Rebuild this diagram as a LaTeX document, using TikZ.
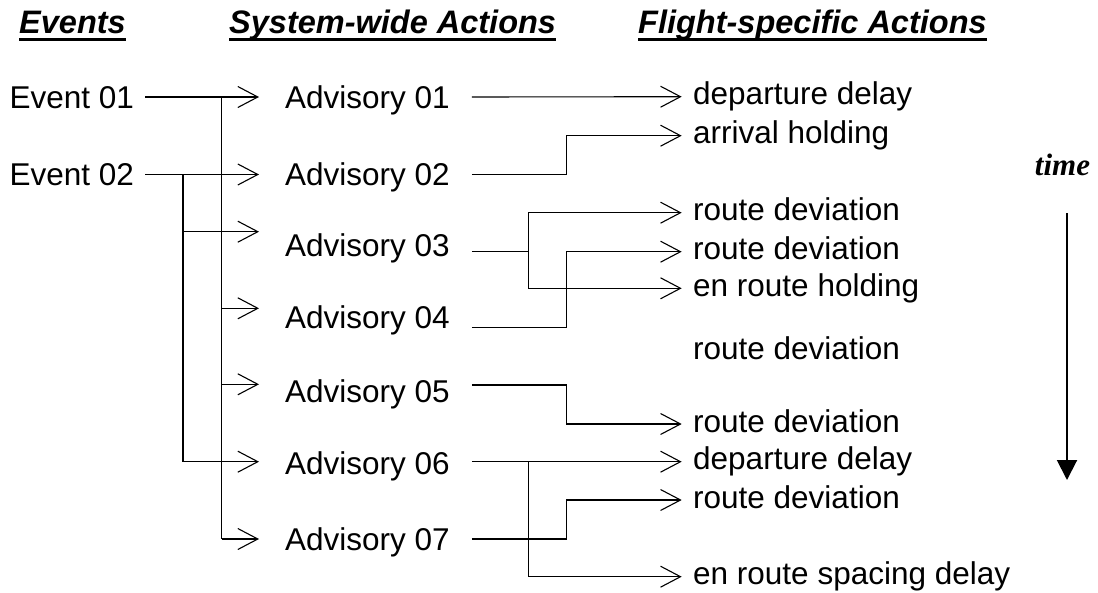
\documentclass[tikz,border=0pt]{standalone}
\usepackage{fontspec}
\setmainfont{Liberation Sans}
\newfontfamily\timesfont{Liberation Serif}
\usetikzlibrary{arrows.meta}

\begin{document}
\begin{tikzpicture}[x=1pt, y=-1pt,
  body/.style={font=\fontsize{31.5}{36}\selectfont, inner sep=0pt},
  evt/.style={body, anchor=west, text height=22.55pt, text depth=0pt},
  adv/.style={body, anchor=west, text height=22.55pt, text depth=0pt},
  act/.style={body, anchor=west, text height=16.35pt, text depth=0pt},
  head/.style={font=\fontsize{32.5}{38}\selectfont\bfseries\itshape, inner sep=0pt, anchor=base west},
  uline/.style={line width=2.5pt},
  link/.style={line width=1.1pt},
  arr/.style={link, -{Straight Barb[length=20pt, width=21pt]}},
  tarr/.style={line width=2pt, -{Triangle[length=20pt, width=20pt]}}
]
\fill[white] (0,0) rectangle (1098,592);
\useasboundingbox (0,0) rectangle (1098,592);

% column headings
\node[head] (h1) at (19,33.5) {Events};
\node[head] (h2) at (229,33.5) {System-wide Actions};
\node[head] (h3) at (638,33.5) {Flight-specific Actions};
\foreach \h in {h1,h2,h3}
  \draw[uline] ([yshift=-6pt]\h.base west) -- ([yshift=-6pt]\h.base east);

% events
\node[evt] (e1) at (9.5,97) {Event 01};
\node[evt] (e2) at (9.5,174.5) {Event 02};

% system-wide advisories
\node[adv] (a1) at (285,97)  {Advisory 01};
\node[adv] (a2) at (285,174.5) {Advisory 02};
\node[adv] (a3) at (285,245) {Advisory 03};
\node[adv] (a4) at (285,317) {Advisory 04};
\node[adv] (a5) at (285,391) {Advisory 05};
\node[adv] (a6) at (285,463) {Advisory 06};
\node[adv] (a7) at (285,539) {Advisory 07};

% flight-specific actions
\node[act] (r1)  at (693,96.7)  {departure delay};
\node[act] (r2)  at (693,135.7) {arrival holding};
\node[act] (r3)  at (693,212.7) {route deviation};
\node[act] (r4)  at (693,251.7) {route deviation};
\node[act] (r5)  at (693,288.3) {en route holding};
\node[act] (r6)  at (693,351.7) {route deviation};
\node[act] (r7)  at (693,424)   {route deviation};
\node[act] (r8)  at (693,461.7) {departure delay};
\node[act] (r9)  at (693,500)   {route deviation};
\node[act] (r10) at (693,576.7) {en route spacing delay};

% time axis
\node[font=\timesfont\fontsize{31}{36}\selectfont\bfseries\itshape, inner sep=0pt, anchor=base] (time) at (1062.5,175) {time};
\coordinate (ts) at (1067,213);
\coordinate (te) at (1067,480);
\draw[tarr] (ts) -- (te);

% vertical bus positions
\coordinate (k1) at (221.5,0);
\coordinate (k2) at (183,0);
\coordinate (j1) at (528.3,0);
\coordinate (j2) at (566.7,0);

% line ends at the events
\coordinate (e1o) at ([xshift=11pt]e1.east);
\coordinate (e2o) at ([xshift=11pt]e2.east);

% arrow tips in front of the advisories
\coordinate (a1i) at ([xshift=-26pt]a1.west);
\coordinate (a2i) at ([xshift=-26pt]a2.west);
\coordinate (a3i) at ([xshift=-26pt,yshift=13.3pt]a3.west);
\coordinate (a4i) at ([xshift=-26pt,yshift=8.7pt]a4.west);
\coordinate (a5i) at ([xshift=-26pt,yshift=6.7pt]a5.west);
\coordinate (a6i) at ([xshift=-26pt,yshift=1.3pt]a6.west);
\coordinate (a7i) at ([xshift=-26pt]a7.west);

% line starts behind the advisories
\coordinate (a1o) at ([xshift=22pt]a1.east);
\coordinate (a2o) at ([xshift=22pt]a2.east);
\coordinate (a3o) at ([xshift=22pt,yshift=-6.7pt]a3.east);
\coordinate (a4o) at ([xshift=22pt,yshift=-10.7pt]a4.east);
\coordinate (a5o) at ([xshift=22pt,yshift=6pt]a5.east);
\coordinate (a6o) at ([xshift=22pt,yshift=1.3pt]a6.east);
\coordinate (a7o) at ([xshift=22pt]a7.east);

% arrow tips in front of the actions
\foreach \r in {r1,r2,r3,r4,r5,r7,r8,r9,r10}
  \coordinate (\r t) at ([xshift=-11.3pt]\r.west);

% Event 01 -> Advisories 01, 04, 05, 07
\draw[arr] (e1o) -- (a1i);
\draw[link] (k1 |- e1o) -- (k1 |- a7i);
\draw[arr] (k1 |- a7i) -- (a7i);
\draw[arr] (k1 |- a4i) -- (a4i);
\draw[arr] (k1 |- a5i) -- (a5i);

% Event 02 -> Advisories 02, 03, 06
\draw[arr] (e2o) -- (a2i);
\draw[link] (k2 |- e2o) -- (k2 |- a6i);
\draw[arr] (k2 |- a6i) -- (a6i);
\draw[arr] (k2 |- a3i) -- (a3i);

% advisories -> flight-specific actions
\draw[arr] (a1o) -- (r1t);
\draw[arr] (a2o) -| (j2 |- r2t) -- (r2t);
\draw[link] (a3o) -- (j1 |- a3o);
\draw[arr] (j1 |- a3o) |- (r3t);
\draw[arr] (j1 |- a3o) |- (r5t);
\draw[arr] (a4o) -| (j2 |- r4t) -- (r4t);
\draw[arr] (a5o) -| (j2 |- r7t) -- (r7t);
\draw[arr] (a6o) -- (r8t);
\draw[arr] (j1 |- a6o) |- (r10t);
\draw[arr] (a7o) -| (j2 |- r9t) -- (r9t);
\end{tikzpicture}
\end{document}
